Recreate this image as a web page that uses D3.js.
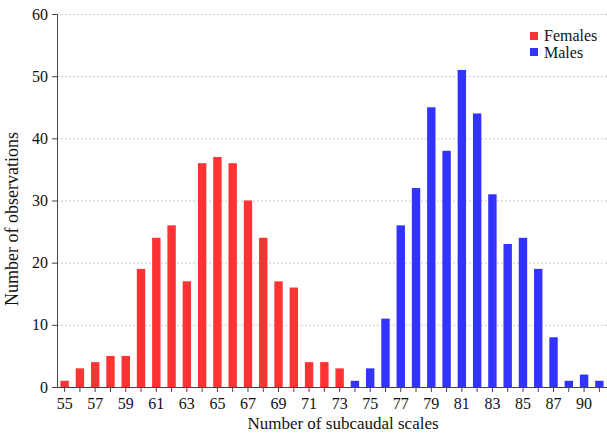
<!DOCTYPE html>
<html><head><meta charset="utf-8">
<script src="https://cdn.jsdelivr.net/npm/d3@7"></script>
<style>body{margin:0;background:#fff}svg{display:block}svg text{font-family:"Liberation Serif","Times New Roman","DejaVu Serif",serif !important}</style>
</head><body>
<svg id="c" width="607" height="437"></svg>
<script>
const categories = ["55","56","57","58","59","60","61","62","63","64","65","66","67","68","69","70","71","72","73","74","75","76","77","78","79","80","81","82","83","84","85","86","87","88","90","91"];
const femaleCats = ["55","56","57","58","59","60","61","62","63","64","65","66","67","68","69","70","71","72","73"];
const femaleVals = [1,3,4,5,5,19,24,26,17,36,37,36,30,24,17,16,4,4,3];
const maleCats = ["74","75","76","77","78","79","80","81","82","83","84","85","86","87","88","90","91"];
const maleVals = [1,3,11,26,32,45,38,51,44,31,23,24,19,8,1,2,1];
const yTicks = [0,10,20,30,40,50,60];
const seriesNames = ["Females","Males"];
const colors = ["#ff3333","#3333ff"];

(function(){
const FF = "'Liberation Serif','Times New Roman','DejaVu Serif',serif";
const svg = d3.select("#c");
const pl=57, pr=607, pt=14, pb=387;
const x = d3.scaleBand().domain(categories).range([pl,pr]).paddingInner(0.45).paddingOuter(0.225);
const y = d3.scaleLinear().domain([0,60]).range([pb,pt]);

svg.append("g").selectAll("line").data(yTicks.filter(d=>d>0)).join("line")
  .attr("x1",pl).attr("x2",pr).attr("y1",d=>y(d)+0.5).attr("y2",d=>y(d)+0.5)
  .attr("stroke","#cccccc").attr("stroke-dasharray","2,2").attr("stroke-width",1);

const data = femaleCats.map((c,i)=>({c,v:femaleVals[i],s:0})).concat(maleCats.map((c,i)=>({c,v:maleVals[i],s:1})));
svg.append("g").selectAll("rect").data(data).join("rect")
  .attr("x",d=>x(d.c)).attr("width",x.bandwidth())
  .attr("y",d=>y(d.v)).attr("height",d=>y(0)-y(d.v))
  .attr("fill",d=>colors[d.s]);

const ya = svg.append("g").attr("transform",`translate(${pl},0)`)
  .call(d3.axisLeft(y).tickValues(yTicks).tickSize(5).tickSizeOuter(0));
ya.attr("font-family",FF);
ya.select(".domain").attr("stroke","#444");
ya.selectAll(".tick line").attr("stroke","#444");
ya.selectAll("text").attr("font-size",16).attr("fill","#111").style("font-family",FF).attr("dx",-1);

const xa = svg.append("g").attr("transform",`translate(0,${pb})`)
  .call(d3.axisBottom(x).tickSize(5).tickSizeOuter(0).tickFormat((d,i)=> i%2===0 ? d : ""));
xa.attr("font-family",FF);
xa.select(".domain").attr("stroke","#444").attr("d",`M${pl},0.5H${pr}`);
xa.selectAll(".tick line").attr("stroke","#444");
xa.selectAll("text").attr("font-size",16).attr("fill","#111").style("font-family",FF).attr("dy","0.85em");

svg.append("text").attr("x",343).attr("y",429).attr("text-anchor","middle").attr("font-size",17).attr("fill","#111").style("font-family",FF).text("Number of subcaudal scales");
svg.append("text").attr("transform","translate(18,219) rotate(-90)").attr("text-anchor","middle").attr("font-size",18).attr("fill","#111").style("font-family",FF).text("Number of observations");

const lg = svg.append("g");
seriesNames.forEach((n,i)=>{
  lg.append("rect").attr("x",530).attr("y",32+i*16).attr("width",8).attr("height",8).attr("fill",colors[i]);
  lg.append("text").attr("x",544).attr("y",41+i*16.5).attr("font-size",16).attr("fill","#111").style("font-family",FF).text(n);
});
})();
</script>
</body></html>
